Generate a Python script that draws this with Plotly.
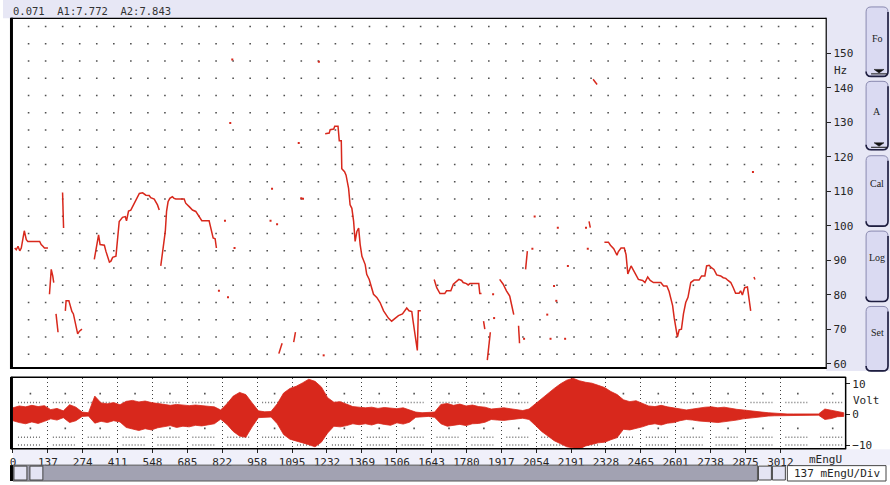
import numpy as np
import plotly.graph_objects as go

# ---------------- data ----------------
# Fundamental frequency contour: time (mEngU) and Fo (Hz); None breaks the contour
pitch_t = [7, 13, 20, 27, 33, 40, 45, 53, 59, 106, 112, 119, 125, 139, None,
           145, 152, 158, 162, None,
           171, 179, None,
           197, 201, None,
           208, 211, 222, 227, 234, 240, 248, 257, 264, 274, None,
           323, 333, 340, 346, 356, 363, 369, 376, 383, 389, 396, 409, 416, 422, 435,
           446, 451, 459, 468, 478, 486, 495, 502, 515, 528, 541, 547, 561, 567, 574, 581, None,
           587, 594, 601, 605, 610, 616, 623, 633, 640, 647, 680, 686, 700, 713, 726,
           739, 750, 779, 785, 795, 803, 808, None,
           1056, 1069, None,
           1115, 1122, None,
           1240, 1256, 1260, 1274, 1278, 1291, 1296, 1304, 1306, 1317, 1323, 1333, 1339,
           1346, 1353, 1359, 1366, 1373, 1379, 1386, 1399, 1405, 1415, 1422, 1432, 1445,
           1458, 1472, 1485, 1491, 1504, 1517, 1531, 1547, 1557, 1564, 1573, 1584, 1588,
           1597, 1606, 1610, 1620, None,
           1673, 1683, 1696, 1715, 1722, 1739, 1749, 1762, 1771, 1782, 1788, 1801, 1808,
           1815, 1850, 1854, 1861, None,
           1869, 1874, None,
           1884, 1891, 1896, None,
           1933, 1947, 1960, 1973, 1980, 1989, None,
           2008, 2012, None,
           2036, 2043, None,
           2288, 2293, None,
           2304, 2320, None,
           2349, 2365, 2373, 2386, 2399, 2404, 2415, 2428, 2435, 2442, 2455, 2465, 2474,
           2484, 2501, 2510, 2521, 2531, 2544, 2573, 2584, 2597, 2606, 2613, 2620, 2626,
           2633, 2639, 2646, 2655, 2663, 2672, 2681, 2692, 2705, 2725, 2735, 2748, 2755,
           2765, 2774, 2784, 2795, 2811, 2821, 2831, 2840, 2851, 2861, 2870, 2884, 2890,
           2897, 2906, 2917, 2924, 2930, None,
           2943, 2947]
pitch_hz = [93.6, 93.1, 94.1, 92.8, 93.6, 96.5, 98.6, 96.0, 95.5, 95.5, 94.6, 94.1, 93.6, 93.6, None,
            80.2, 87.4, 85.5, 83.6, None,
            74.5, 69.2, None,
            109.7, 99.4, None,
            75.4, 78.3, 78.3, 76.9, 75.2, 74.5, 71.6, 68.7, 69.5, 70.1, None,
            90.3, 94.6, 97.4, 94.6, 94.4, 94.4, 92.7, 90.7, 89.5, 89.8, 90.9, 91.2, 97.0, 101.3, 102.5,
            102.7, 101.5, 104.3, 104.6, 105.9, 107.0, 108.5, 109.4, 109.6, 108.9, 108.8, 108.2, 107.8,
            107.0, 106.1, 104.6, None,
            88.4, 92.7, 97.4, 98.4, 104.2, 107.0, 108.0, 108.5, 108.0, 107.8, 107.8, 106.6, 105.6,
            104.6, 104.2, 102.7, 101.5, 101.5, 99.4, 96.5, 96.3, 93.6, None,
            63.0, 66.0, None,
            66.3, 69.2, None,
            126.7, 126.9, 127.9, 128.1, 128.9, 128.9, 124.7, 124.7, 116.6, 115.7, 114.7, 110.9, 106.1,
            105.1, 101.3, 95.5, 98.4, 99.4, 94.6, 91.2, 88.8, 86.0, 84.5, 82.6, 80.2, 79.3,
            77.8, 75.4, 74.0, 73.3, 72.4, 73.3, 74.0, 74.5, 75.4, 76.2, 75.4, 75.2, 73.0,
            67.8, 63.9, 75.4, 75.4, None,
            84.5, 82.1, 80.4, 80.4, 81.2, 81.2, 83.1, 84.1, 84.5, 84.2, 83.6, 83.3, 82.9,
            83.3, 83.3, 80.4, 80.4, None,
            72.4, 70.1, None,
            61.1, 64.9, 69.2, None,
            84.5, 83.1, 81.2, 79.7, 77.3, 74.3, None,
            71.1, 66.0, None,
            87.4, 92.7, None,
            101.3, 99.5, None,
            142.5, 141.0, None,
            95.3, 95.3, 94.4, 93.4, 91.5, 92.5, 93.6, 93.6, 91.7, 86.1, 88.4, 87.1, 85.8,
            84.5, 84.2, 83.6, 85.2, 84.2, 83.6, 83.6, 82.6, 82.6, 81.0, 78.8, 76.9, 73.5,
            70.1, 67.8, 69.9, 70.1, 74.5, 77.8, 79.3, 83.6, 84.3, 84.3, 85.5, 85.5, 88.4,
            88.6, 87.9, 87.4, 85.8, 85.5, 85.0, 84.8, 84.2, 83.6, 82.1, 80.5, 80.5, 81.2,
            80.0, 82.1, 82.3, 78.3, 75.4, None,
            85.2, 84.5]

# isolated single-frame Fo estimates
speck_t = [871, 1215, 863, 1029, 842, 880, 818, 854, 1135, 1145, 1152, 1023, 1049, 1234,
           2072, 2164, 2204, 2149, 2158, 2122, 2135, 2193, 1911, 1907, 2276, 2283, 2030,
           2063, 2939]
speck_hz = [148.2, 147.6, 129.8, 110.8, 101.5, 93.6, 81.2, 79.3, 124.0, 108.0, 107.9, 101.5,
            100.5, 62.5, 102.7, 99.5, 88.4, 82.6, 78.3, 74.3, 67.3, 67.3, 73.3, 80.2, 99.5,
            93.4, 67.3, 93.4, 115.6]

# Waveform amplitude envelope (Volt), sampled every 24.7 mEngU
env_upper = [2.2, 2.8, 2.5, 3.0, 2.6, 2.9, 1.6, 2.0, 1.2, 3.2,
             2.4, 0.8, 0.6, 6.0, 3.8, 3.5, 3.9, 3.2, 4.3, 4.6,
             4.1, 4.4, 3.9, 3.6, 3.4, 3.0, 3.3, 3.2, 2.9, 3.1,
             2.8, 2.7, 2.5, 1.5, 3.5, 6.0, 7.2, 6.5, 3.8, 1.2,
             0.9, 1.0, 3.5, 7.0, 8.5, 9.2, 10.3, 11.5, 10.8, 9.0,
             5.5, 4.0, 4.2, 3.5, 2.6, 2.4, 2.2, 2.4, 2.0, 2.3,
             2.1, 1.9, 2.2, 1.6, 0.8, 0.6, 0.7, 0.8, 3.3, 3.6,
             3.0, 3.4, 2.8, 3.1, 2.6, 2.4, 1.8, 2.0, 2.2, 1.9,
             1.6, 1.3, 1.8, 3.5, 5.0, 7.0, 8.5, 10.0, 11.2, 11.8,
             11.0, 10.5, 10.2, 9.5, 8.8, 7.5, 6.5, 4.8, 4.2, 4.5,
             3.6, 2.8, 2.6, 3.0, 2.5, 2.2, 1.8, 1.5, 1.8, 2.2,
             2.4, 2.5, 2.2, 2.4, 2.0, 1.7, 1.5, 1.2, 0.9, 0.8,
             0.6, 0.4, 0.3, 0.2, 0.2, 0.2, 0.2, 0.2, 0.2, 1.8,
             1.4, 0.8, 0.6]
env_lower = [-2.0, -2.6, -3.0, -2.4, -2.9, -2.2, -1.4, -1.8, -1.0, -2.6,
             -2.0, -0.6, -0.5, -2.8, -2.2, -2.6, -2.0, -2.4, -4.2, -4.8,
             -5.2, -4.6, -5.0, -4.3, -3.9, -3.6, -4.2, -3.8, -4.0, -3.5,
             -3.7, -3.3, -3.0, -1.5, -3.2, -5.5, -7.0, -7.4, -4.0, -1.0,
             -0.8, -0.8, -3.0, -6.5, -8.0, -8.8, -9.2, -9.8, -10.5, -9.0,
             -6.0, -3.8, -4.0, -3.6, -3.0, -3.3, -3.0, -3.4, -2.8, -3.2,
             -3.5, -2.7, -3.1, -2.5, -0.9, -0.7, -0.6, -0.9, -3.0, -3.8,
             -3.5, -3.2, -3.6, -3.0, -2.9, -2.5, -1.6, -1.8, -1.9, -1.6,
             -1.4, -1.2, -1.6, -3.5, -5.5, -7.0, -8.5, -9.5, -10.5, -10.8,
             -11.2, -10.2, -9.8, -9.2, -9.0, -8.2, -7.5, -4.8, -5.0, -4.5,
             -4.0, -3.3, -3.0, -3.4, -2.8, -2.6, -2.0, -1.6, -1.8, -2.1,
             -2.3, -2.4, -2.6, -2.2, -2.1, -1.8, -1.4, -1.1, -0.9, -0.7,
             -0.5, -0.4, -0.3, -0.2, -0.2, -0.2, -0.2, -0.2, -0.2, -1.6,
             -1.3, -0.7, -0.6]
env_t = np.arange(len(env_upper)) * 24.7

hz_ticks = [60, 70, 80, 90, 100, 110, 120, 130, 140, 150]
volt_ticks = [-10, 0, 10]
time_div = 136.9
time_labels = ["0", "137", "274", "411", "548", "685", "822", "958", "1095", "1232",
               "1369", "1506", "1643", "1780", "1917", "2054", "2191", "2328", "2465",
               "2601", "2738", "2875", "3012"]
header_text = "0.071  A1:7.772  A2:7.843"
button_labels = ["Fo", "A", "Cal", "Log", "Set"]

# ---------------- geometry helpers (pixel -> paper) ----------------
W, H = 890, 485


def X(x):
    return x / W


def Y(y):
    return 1 - y / H


def rounded(x0, y0, x1, y1, r):
    return (f"M{X(x0 + r)},{Y(y0)} L{X(x1 - r)},{Y(y0)} Q{X(x1)},{Y(y0)} {X(x1)},{Y(y0 + r)} "
            f"L{X(x1)},{Y(y1 - r)} Q{X(x1)},{Y(y1)} {X(x1 - r)},{Y(y1)} "
            f"L{X(x0 + r)},{Y(y1)} Q{X(x0)},{Y(y1)} {X(x0)},{Y(y1 - r)} "
            f"L{X(x0)},{Y(y0 + r)} Q{X(x0)},{Y(y0)} {X(x0 + r)},{Y(y0)} Z")


def shade(x0, y0, x1, y1, r):
    return (f"M{X(x0)},{Y(y1 - r)} Q{X(x0)},{Y(y1)} {X(x0 + r)},{Y(y1)} "
            f"L{X(x1 - r)},{Y(y1)} Q{X(x1)},{Y(y1)} {X(x1)},{Y(y1 - r)} L{X(x1)},{Y(y0 + r)}")


MONO = "DejaVu Sans Mono"
RED = "#d8281c"
LAV = "#e7e7f5"
INK = "#262626"

fig = go.Figure()

# ---------------- pitch panel ----------------
dot_t = 62 + 67.7 * np.arange(47)
dot_hz = 62.8 + 5 * np.arange(20)
gx, gy = np.meshgrid(dot_t, dot_hz)
fig.add_trace(go.Scatter(x=gx.ravel(), y=gy.ravel(), mode="markers",
                         marker=dict(symbol="square", size=1.6, color="#505050", line=dict(width=0)),
                         hoverinfo="skip", xaxis="x", yaxis="y"))
fig.add_trace(go.Scatter(x=pitch_t, y=pitch_hz, mode="lines",
                         line=dict(color=RED, width=1.5), connectgaps=False,
                         hoverinfo="skip", xaxis="x", yaxis="y"))
fig.add_trace(go.Scatter(x=speck_t, y=speck_hz, mode="markers",
                         marker=dict(symbol="square", size=2, color=RED, line=dict(width=0)),
                         hoverinfo="skip", xaxis="x", yaxis="y"))

# ---------------- waveform panel ----------------
div_x = time_div * np.arange(24)
stip_x, stip_y = [], []
for v in (3.9, -7.4, -9.9):
    for d in div_x:
        stip_x += [d + 19.6, d + 105.6, None]
        stip_y += [v, v, None]
fig.add_trace(go.Scatter(x=stip_x, y=stip_y, mode="lines",
                         line=dict(color="#707070", width=1.5, dash="1px,2px"),
                         hoverinfo="skip", xaxis="x2", yaxis="y2"))
mx = np.repeat(div_x + time_div / 2, 2)
my = np.tile([6.8, -4.5], len(div_x))
fig.add_trace(go.Scatter(x=mx, y=my, mode="markers",
                         marker=dict(symbol="square", size=1.6, color="#505050", line=dict(width=0)),
                         hoverinfo="skip", xaxis="x2", yaxis="y2"))
fig.add_trace(go.Scatter(x=list(env_t) + list(env_t[::-1]),
                         y=env_upper + env_lower[::-1],
                         mode="lines", fill="toself", fillcolor=RED,
                         line=dict(color=RED, width=0.8),
                         hoverinfo="skip", xaxis="x2", yaxis="y2"))

# ---------------- decorations ----------------
shapes = []
# window chrome backgrounds
shapes.append(dict(type="rect", xref="paper", yref="paper", x0=0, x1=1, y0=Y(18.5), y1=1,
                   fillcolor=LAV, line_width=0, layer="below"))
shapes.append(dict(type="rect", xref="paper", yref="paper", x0=X(826), x1=1, y0=Y(374), y1=Y(18),
                   fillcolor=LAV, line_width=0, layer="below"))
shapes.append(dict(type="rect", xref="paper", yref="paper", x0=X(10), x1=1, y0=Y(469), y1=Y(453),
                   fillcolor="#f0f0fa", line_width=0, layer="below"))
# scroll bar
shapes.append(dict(type="rect", xref="paper", yref="paper", x0=X(10), x1=X(757), y0=0, y1=Y(469),
                   fillcolor="#a2a2b2", line=dict(color="#555", width=1)))
for bx in (10, 26):
    shapes.append(dict(type="rect", xref="paper", yref="paper", x0=X(bx + 1), x1=X(bx + 14),
                       y0=Y(484), y1=Y(470), fillcolor="#e4e4f4", line=dict(color="#444", width=1)))
for bx in (758, 772):
    shapes.append(dict(type="rect", xref="paper", yref="paper", x0=X(bx), x1=X(bx + 13),
                       y0=Y(484), y1=Y(470), fillcolor="#e4e4f4", line=dict(color="#444", width=1)))
shapes.append(dict(type="rect", xref="paper", yref="paper", x0=X(787), x1=X(886),
                   y0=Y(485), y1=Y(469.5), fillcolor="white", line=dict(color="#444", width=1)))
# frames
for (x0, y0, x1, y1, w) in [(8.5, 18, 8.5, 372, 3), (8, 18.5, 826, 18.5, 1.2),
                            (826, 18, 826, 372, 1.2), (8, 371, 826, 371, 2),
                            (8.5, 380, 8.5, 453, 3), (8, 380.5, 845.5, 380.5, 1.5),
                            (8, 452.5, 845.5, 452.5, 1.5), (845.5, 380, 845.5, 453, 1.5),
                            (8.5, 469, 8.5, 485, 3)]:
    shapes.append(dict(type="line", xref="paper", yref="paper", x0=X(x0), x1=X(x1),
                       y0=Y(y0), y1=Y(y1), line=dict(color="black", width=w)))
# side buttons
btn_box = [(7, 77), (82, 151), (157, 228), (233, 304), (309, 374)]
btn_lab = [39, 112, 185, 260, 335]
for (t0, t1) in btn_box:
    shapes.append(dict(type="path", xref="paper", yref="paper", path=rounded(866, t0, 888, t1, 5),
                       fillcolor="#dadaf2", line=dict(color="#8a8ab0", width=1)))
    shapes.append(dict(type="path", xref="paper", yref="paper", path=shade(866, t0, 888, t1, 5),
                       line=dict(color="#1e1e40", width=1.6)))
for ty in (70, 144):
    shapes.append(dict(type="path", xref="paper", yref="paper",
                       path=f"M{X(874)},{Y(ty)} L{X(884)},{Y(ty)} L{X(879)},{Y(ty + 3.5)} Z",
                       fillcolor="#111", line=dict(color="#111", width=0.5)))
    shapes.append(dict(type="line", xref="paper", yref="paper", x0=X(871), x1=X(887),
                       y0=Y(ty + 4.5), y1=Y(ty + 4.5), line=dict(color="#111", width=1)))

annotations = [
    dict(x=X(8), y=Y(11.5), xref="paper", yref="paper", text=header_text, showarrow=False,
         xanchor="left", yanchor="middle", font=dict(family=MONO, size=10.5, color="#333")),
    dict(x=X(832), y=Y(71), xref="paper", yref="paper", text="Hz", showarrow=False,
         xanchor="left", yanchor="middle", font=dict(family=MONO, size=11, color=INK)),
    dict(x=X(851), y=Y(404), xref="paper", yref="paper", text="Volt", showarrow=False,
         xanchor="left", yanchor="middle", font=dict(family=MONO, size=11, color=INK)),
    dict(x=X(825), y=Y(463), xref="paper", yref="paper", text="mEngU", showarrow=False,
         xanchor="center", yanchor="middle", font=dict(family=MONO, size=11, color=INK)),
    dict(x=X(792), y=Y(477.5), xref="paper", yref="paper", text="137 mEngU/Div", showarrow=False,
         xanchor="left", yanchor="middle", font=dict(family=MONO, size=11, color=INK)),
]
for lab, ly in zip(button_labels, btn_lab):
    annotations.append(dict(x=X(877), y=Y(ly), xref="paper", yref="paper", text=lab,
                            showarrow=False, xanchor="center", yanchor="middle",
                            font=dict(family="Liberation Serif", size=10, color="#222")))

tickfont = dict(family=MONO, size=11, color=INK)
fig.update_layout(
    width=W, height=H, margin=dict(l=0, r=0, t=0, b=0),
    paper_bgcolor="white", plot_bgcolor="white", showlegend=False,
    xaxis=dict(domain=[X(10), X(826)], range=[0, 3230], visible=False, anchor="y",
               fixedrange=True),
    yaxis=dict(domain=[Y(371), Y(18)], range=[58.85, 160.3], side="right", anchor="x",
               tickvals=hz_ticks, ticks="outside", ticklen=4, tickcolor="#222", tickwidth=1,
               tickfont=tickfont, showgrid=False, zeroline=False, showline=False),
    xaxis2=dict(domain=[X(10), X(845)], range=[0, 3266], anchor="y2",
                tickvals=list(time_div * np.arange(len(time_labels))), ticktext=time_labels,
                ticks="outside", ticklen=4, tickcolor="#222", tickfont=tickfont,
                showgrid=True, gridcolor="#404040", griddash="1px,3px", gridwidth=1,
                zeroline=False, showline=False),
    yaxis2=dict(domain=[Y(452), Y(381)], range=[-10.97, 11.94], side="right", anchor="x2",
                tickvals=volt_ticks, ticks="outside", ticklen=4, tickcolor="#222",
                tickfont=tickfont, showgrid=False, zeroline=False, showline=False),
    shapes=shapes, annotations=annotations,
)

fig.write_html("out.html")
